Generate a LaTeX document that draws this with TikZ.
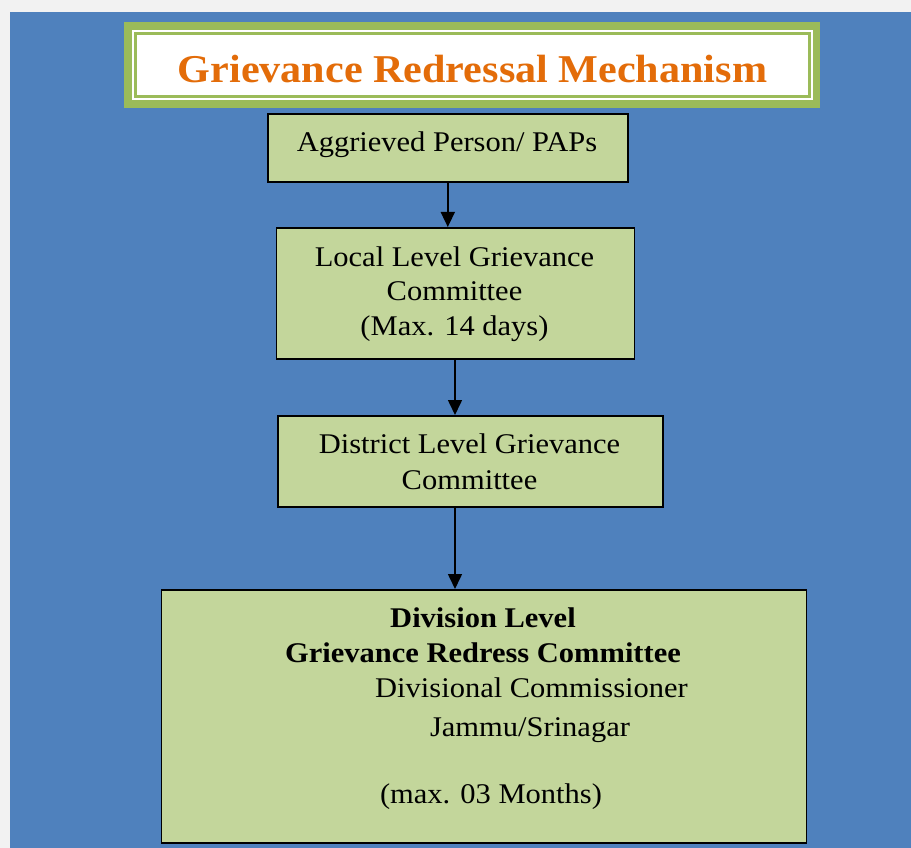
\documentclass[tikz,border=0pt]{standalone}
\usepackage{fontspec}
\setmainfont{Liberation Serif}[FakeStretch=1.07]
\usetikzlibrary{arrows.meta}
\definecolor{bgc}{HTML}{F2F2F2}
\definecolor{blu}{HTML}{4F81BD}
\definecolor{grn}{HTML}{9BBB59}
\definecolor{lgrn}{HTML}{C3D69B}
\definecolor{org}{HTML}{E36C09}
\begin{document}
\begin{tikzpicture}[x=1pt,y=-1pt,
  box/.style={draw=black, line width=1.6pt, fill=lgrn, inner sep=0pt, anchor=north west},
  txt/.style={anchor=base, inner sep=0pt, font=\fontsize{28.5}{35.5}\selectfont},
  btxt/.style={txt, font=\fontsize{28.5}{35.5}\selectfont\bfseries},
  arr/.style={-{Triangle[width=14pt,length=15pt]}, line width=1.6pt, draw=black}]
\useasboundingbox (0,0) rectangle (911,848);
\fill[bgc] (0,0) rectangle (911,848);
\fill[blu] (10,12) rectangle (911,848);
% title
\fill[grn] (124,22) rectangle (820,108);
\fill[white] (132,30) rectangle (813,100);
\draw[grn, line width=2.2pt] (135.5,33.5) rectangle (809.5,96.5);
\node[anchor=base, inner sep=0pt, text=org, font=\fontsize{39.4}{48}\selectfont\bfseries] (title) at (472.5,83) {Grievance Redressal Mechanism};
% boxes
\node[box, minimum width=360pt, minimum height=68pt] (a) at (267,113) {};
\node[box, minimum width=358pt, minimum height=131pt] (b) at (275.5,227) {};
\node[box, minimum width=385pt, minimum height=91pt] (c) at (277,415) {};
\node[box, minimum width=645pt, minimum height=253pt] (d) at (160.5,589) {};
% texts
\node[txt] (a1) at (447,152) {Aggrieved Person/ PAPs};
\node[txt] (b1) at (454.5,266) {Local Level Grievance};
\node[txt] (b2) at (454.5,300) {Committee};
\node[txt] (b3) at (454.5,335) {(Max. 14 days)};
\node[txt] (c1) at (469.5,453) {District Level Grievance};
\node[txt] (c2) at (469.5,489) {Committee};
\node[btxt] (d1) at (483,627) {Division Level};
\node[btxt] (d2) at (483,662) {Grievance Redress Committee};
\node[txt] (d3) at (531.5,697) {Divisional Commissioner};
\node[txt] (d4) at (530,736) {Jammu/Srinagar};
\node[txt] (d5) at (491,803) {(max. 03 Months)};
% arrows
\coordinate (ax) at (455,0);
\draw[arr] (a.south) -- (a.south |- b.north);
\draw[arr] (b.south -| ax) -- (c.north -| ax);
\draw[arr] (c.south -| ax) -- (d.north -| ax);
\end{tikzpicture}
\end{document}
